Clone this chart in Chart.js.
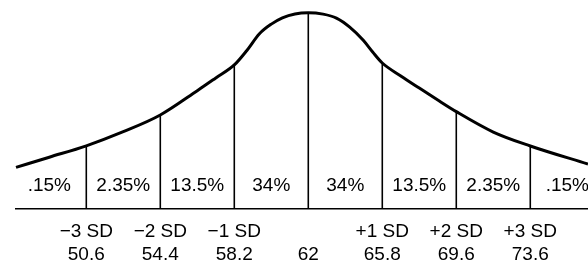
<!DOCTYPE html>
<html>
<head>
<meta charset="utf-8">
<script src="https://cdn.jsdelivr.net/npm/chart.js@4/dist/chart.umd.min.js"></script>
<style>
  html, body { margin: 0; padding: 0; background: #fff; }
  #wrap { width: 588px; height: 267px; }
</style>
</head>
<body>
<div id="wrap"><canvas id="c" width="588" height="267"></canvas></div>
<script>
// Curve (relative height, peak = 100) read along the x axis in SD units
const curveX = [-3.95, -3.5, -3, -2.5, -2, -1.5, -1.25, -1, -0.83, -0.66, -0.5, -0.35, -0.18, 0,
                0.2, 0.38, 0.56, 0.74, 0.87, 1, 1.25, 1.5, 1.75, 2, 2.5, 3, 3.78];
const curveY = [21.2, 26.4, 32.2, 39.4, 47.9, 60.3, 66.8, 73.4, 80.8, 89.3, 94.2, 97.4, 99.4, 100,
                99.3, 97.3, 92.7, 86.1, 80.0, 74.4, 67.8, 61.6, 55.5, 49.6, 39.2, 32.1, 22.9];

// SD boundaries and their labels
const sdPositions = [-3, -2, -1, 0, 1, 2, 3];
const sdLabels = ['\u22123 SD', '\u22122 SD', '\u22121 SD', '', '+1 SD', '+2 SD', '+3 SD'];
const scoreLabels = ['50.6', '54.4', '58.2', '62', '65.8', '69.6', '73.6'];

// Percentage of cases in each band
const pctLabels = ['.15%', '2.35%', '13.5%', '34%', '34%', '13.5%', '2.35%', '.15%'];

const FONT = { family: '"Liberation Sans", Arial, Helvetica, sans-serif', size: 19 };
const INK = '#000';

function curveAt(v) {
  const i = curveX.indexOf(v);
  return i >= 0 ? curveY[i] : 0;
}

const datasets = [{
  data: curveX.map((x, i) => ({ x: x, y: curveY[i] })),
  borderColor: INK,
  borderWidth: 3,
  pointRadius: 0,
  cubicInterpolationMode: 'monotone',
  fill: false,
  clip: false
}];
sdPositions.forEach(s => {
  datasets.push({
    data: [{ x: s, y: 0 }, { x: s, y: curveAt(s) }],
    borderColor: INK,
    borderWidth: 1.6,
    pointRadius: 0,
    tension: 0,
    fill: false
  });
});

// band centres: half an SD either side of each boundary
const pctPositions = pctLabels.map((_, i) => i === 0 ? sdPositions[0] - 0.5 : sdPositions[i - 1] + 0.5);
const PCT_Y = 11.7;

const pctPlugin = {
  id: 'pctLabels',
  afterDatasetsDraw(chart) {
    const { ctx, scales } = chart;
    ctx.save();
    ctx.fillStyle = INK;
    ctx.font = FONT.size + 'px ' + FONT.family;
    ctx.textAlign = 'center';
    ctx.textBaseline = 'middle';
    pctLabels.forEach((t, i) => {
      ctx.fillText(t, scales.x.getPixelForValue(pctPositions[i]), scales.y.getPixelForValue(PCT_Y));
    });
    ctx.restore();
  }
};

new Chart(document.getElementById('c'), {
  type: 'line',
  data: { datasets },
  plugins: [pctPlugin],
  options: {
    responsive: false,
    animation: false,
    devicePixelRatio: 1,
    layout: { padding: { left: 16, right: 0, top: 0, bottom: 0 } },
    plugins: { legend: { display: false }, tooltip: { enabled: false }, title: { display: false } },
    scales: {
      x: {
        type: 'linear',
        min: -3.95,
        max: 3.78,
        afterBuildTicks: (scale) => { scale.ticks = sdPositions.map(v => ({ value: v })); },
        afterFit: (scale) => { scale.height = 58; },
        grid: { display: false, drawTicks: false },
        border: { display: true, color: INK, width: 1.6 },
        ticks: {
          autoSkip: false,
          maxRotation: 0,
          minRotation: 0,
          padding: 11.75,
          color: INK,
          font: { family: FONT.family, size: FONT.size, lineHeight: 22.5 / 19 },
          callback: (v) => {
            const i = sdPositions.indexOf(v);
            return i >= 0 ? [sdLabels[i], scoreLabels[i]] : '';
          }
        }
      },
      y: {
        display: false,
        min: 0,
        max: 106.5
      }
    }
  }
});
</script>
</body>
</html>
